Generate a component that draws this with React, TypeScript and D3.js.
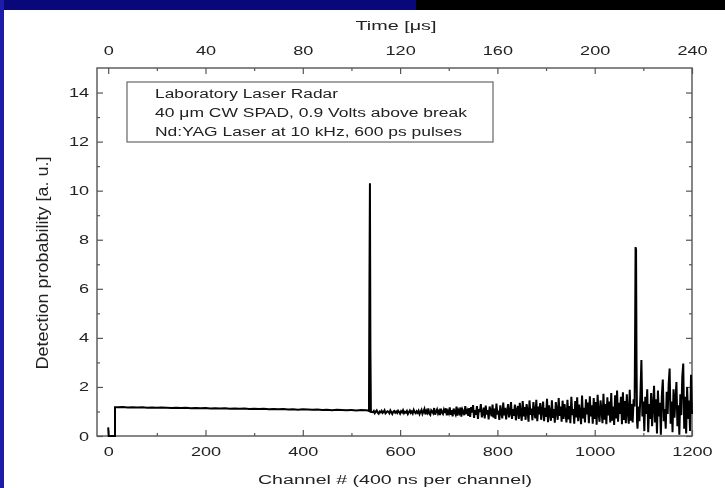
import { useEffect, useRef } from 'react';
import * as d3 from 'd3';

// channel axis ticks (bottom) and time axis ticks (top, µs)
const channelTicks = [0, 200, 400, 600, 800, 1000, 1200];
const channelMinor = [100, 300, 500, 700, 900, 1100];
const timeTicks = [0, 40, 80, 120, 160, 200, 240];
const timeMinor = [20, 60, 100, 140, 180, 220];
const probTicks = [0, 2, 4, 6, 8, 10, 12, 14];
const probMinor = [1, 3, 5, 7, 9, 11, 13];

const legendLines = [
  'Laboratory Laser Radar',
  '40 \u03bcm CW SPAD, 0.9 Volts above break',
  'Nd:YAG Laser at 10 kHz, 600 ps pulses'
];

// start of the record: dead time before the gate opens
const startChannels = [0, 1, 14, 14];
const startValues = [0.35, 0, 0, 1.17];

// flat part, every 10 channels from 20 to 530
const flatStart = 20;
const flatStep = 10;
const flatValues = [
  1.17, 1.18, 1.16, 1.17, 1.16, 1.17, 1.15, 1.16, 1.15, 1.16,
  1.15, 1.14, 1.15, 1.14, 1.15, 1.13, 1.14, 1.13, 1.14, 1.12,
  1.13, 1.12, 1.13, 1.11, 1.12, 1.11, 1.12, 1.10, 1.11, 1.10,
  1.11, 1.09, 1.10, 1.09, 1.10, 1.08, 1.09, 1.07, 1.09, 1.08,
  1.07, 1.08, 1.06, 1.07, 1.05, 1.07, 1.06, 1.05, 1.06, 1.04,
  1.06, 1.05
];

// first return (target 1)
const peak1Channels = [534, 536, 537, 538, 539, 540];
const peak1Values = [1.04, 1.02, 6.2, 10.3, 3.5, 0.98];

// noisy part, every 2 channels from 544 to 1080
const noiseStart = 544;
const noiseStep = 2;
const noiseValues = [
  0.97, 1.02, 0.93, 0.99, 1.04, 0.95, 0.91, 1.00, 0.97, 1.03, 0.94, 0.98, 1.05, 0.92, 0.96, 1.01, 0.99, 0.93, 1.04, 0.97, 0.90, 0.99, 1.02, 0.95, 1.00,
  0.94, 1.03, 0.98, 0.91, 1.01, 0.96, 1.05, 0.93, 0.99, 0.95, 1.02, 0.90, 0.97, 1.04, 0.94, 1.00, 0.92, 1.06, 0.97, 0.93, 1.01, 0.95, 1.03, 0.89, 0.98,
  1.06, 0.90, 0.99, 1.10, 0.88, 1.03, 0.95, 1.12, 0.91, 0.86, 1.05, 1.00, 0.93, 1.14, 0.87, 0.98, 1.08, 0.92, 1.02, 0.85, 1.11, 0.96, 0.90, 1.07, 0.94,
  1.13, 0.84, 1.01, 0.92, 1.17, 0.86, 1.05, 0.80, 1.12, 0.97, 0.88, 1.20, 0.83, 1.04, 0.94, 1.16, 0.79, 1.08, 0.99, 0.85, 1.22, 0.90, 1.02, 0.82, 1.14,
  0.78, 1.18, 0.95, 1.26, 0.74, 1.05, 0.86, 1.22, 0.70, 1.10, 0.98, 1.30, 0.76, 0.92, 1.16, 0.72, 1.24, 0.88, 1.06, 0.68, 1.20, 1.00, 0.80, 1.28, 0.75,
  1.12, 0.70, 1.32, 0.88, 1.04, 0.66, 1.25, 0.95, 0.72, 1.36, 0.84, 1.15, 0.68, 1.02, 1.30, 0.76, 0.94, 1.38, 0.70, 1.10, 0.82, 1.28, 0.64, 1.05, 1.22,
  0.70, 1.35, 0.92, 0.62, 1.42, 0.80, 1.18, 0.66, 1.30, 1.02, 0.58, 1.45, 0.86, 1.12, 0.64, 1.38, 0.95, 0.72, 1.48, 0.60, 1.20, 0.88, 1.34, 0.66, 1.05,
  1.40, 0.60, 1.15, 0.78, 1.52, 0.56, 1.25, 0.92, 0.62, 1.46, 0.74, 1.10, 0.54, 1.38, 1.00, 0.66, 1.55, 0.82, 1.20, 0.58, 1.44, 0.70, 1.30, 0.90, 0.55,
  1.48, 0.68, 1.22, 0.52, 1.60, 0.85, 1.10, 0.50, 1.42, 0.76, 1.58, 0.60, 1.28, 0.95, 0.48, 1.65, 0.72, 1.15, 0.55, 1.50, 0.88, 1.36, 0.52, 1.62, 0.80,
  1.25, 0.50, 1.55, 0.70, 1.38, 0.46, 1.68, 0.92, 0.58, 1.45, 1.05, 0.52, 1.72, 0.66, 1.30, 0.48, 1.58, 0.84, 1.40, 0.55, 1.75, 0.62, 1.20, 0.45, 1.66,
  0.72, 1.85, 0.58, 1.35, 0.90, 1.60, 0.48, 1.78, 0.65, 1.42, 0.52, 1.70, 0.95, 0.50, 1.88, 0.62, 1.30, 0.55, 1.50
];

// second return (target 2)
const peak2Channels = [1082, 1083, 1084, 1085, 1086, 1087];
const peak2Values = [1.2, 4.0, 7.7, 7.6, 3.0, 0.6];

// last stretch, every 2 channels from 1088 to 1200
const tailStart = 1088;
const tailStep = 2;
const tailValues = [
  0.30, 1.20, 0.60, 1.70, 3.10, 0.80, 1.40, 0.20, 1.60, 0.90,
  1.90, 0.15, 1.30, 0.70, 1.75, 0.40, 1.20, 2.05, 0.55, 1.50,
  0.10, 1.85, 0.80, 1.35, 0.05, 1.65, 2.30, 0.60, 1.10, 0.30,
  1.80, 0.90, 2.10, 2.75, 0.50, 1.40, 0.15, 1.90, 0.75, 1.50,
  2.20, 0.40, 1.25, 0.05, 1.70, 0.85, 2.40, 2.95, 0.30, 1.60,
  0.10, 2.00, 0.70, 1.45, 0.20, 2.50, 0.90
];

const W = 725;
const H = 488;
const STRETCH = 1.45;
const FONT = '"Liberation Sans", Arial, Helvetica, sans-serif';
const INK = '#222';

export default function App() {
  const svgRef = useRef<SVGSVGElement | null>(null);

  useEffect(() => {
    if (!svgRef.current) return;
    const svg = d3.select(svgRef.current);
    svg.selectAll('*').remove();

    const left = 97, right = 692, top = 68, bottom = 436;

    const x = d3.scaleLinear().domain([-23, 1200]).range([left, right]);
    const xt = d3.scaleLinear().domain([-23 / 5, 240]).range([left, right]);
    const y = d3.scaleLinear().domain([0, 15]).range([bottom, top]);

    // build the trace
    const pts: [number, number][] = [];
    startChannels.forEach((c, i) => pts.push([c, startValues[i]]));
    flatValues.forEach((v, i) => pts.push([flatStart + i * flatStep, v]));
    peak1Channels.forEach((c, i) => pts.push([c, peak1Values[i]]));
    noiseValues.forEach((v, i) => pts.push([noiseStart + i * noiseStep, v]));
    peak2Channels.forEach((c, i) => pts.push([c, peak2Values[i]]));
    tailValues.forEach((v, i) => pts.push([tailStart + i * tailStep, v]));

    // frame around the page
    svg.append('rect').attr('width', W).attr('height', H).attr('fill', '#fff');
    svg.append('rect').attr('x', 0).attr('y', 0).attr('width', W).attr('height', 10).attr('fill', '#000');
    svg.append('rect').attr('x', 0).attr('y', 0).attr('width', 416).attr('height', 10).attr('fill', '#08087a');
    svg.append('rect').attr('x', 0).attr('y', 0).attr('width', 4).attr('height', H).attr('fill', '#1c1ca8');

    const defs = svg.append('defs');
    defs.append('filter').attr('id', 'soft')
      .append('feGaussianBlur').attr('stdDeviation', 0.45);

    const g = svg.append('g').attr('filter', 'url(#soft)');

    const styleAxis = (sel: any) => {
      sel.select('.domain').remove();
      sel.selectAll('line').attr('stroke', '#555').attr('stroke-width', 1.2);
      sel.selectAll('text')
        .attr('fill', INK)
        .style('font-family', FONT)
        .style('font-size', '12.5px');
    };
    const fmt = d3.format('d');

    // bottom axis
    g.append('g').attr('transform', `translate(0,${bottom})`)
      .call(d3.axisBottom(x).tickValues(channelTicks).tickFormat(fmt as any).tickSize(-6).tickPadding(11))
      .call(styleAxis)
      .selectAll('text').attr('transform', `scale(${STRETCH},1)`);
    g.append('g').attr('transform', `translate(0,${bottom})`)
      .call(d3.axisBottom(x).tickValues(channelMinor).tickSize(-3).tickFormat(() => ''))
      .call(styleAxis);

    // top axis (time)
    g.append('g').attr('transform', `translate(0,${top})`)
      .call(d3.axisTop(xt).tickValues(timeTicks).tickFormat(fmt as any).tickSize(-6).tickPadding(13))
      .call(styleAxis)
      .selectAll('text').attr('transform', `scale(${STRETCH},1)`);
    g.append('g').attr('transform', `translate(0,${top})`)
      .call(d3.axisTop(xt).tickValues(timeMinor).tickSize(-3).tickFormat(() => ''))
      .call(styleAxis);

    // left axis
    g.append('g').attr('transform', `translate(${left},0)`)
      .call(d3.axisLeft(y).tickValues(probTicks).tickFormat(fmt as any).tickSize(-6).tickPadding(5.5))
      .call(styleAxis)
      .selectAll('text').attr('transform', `scale(${STRETCH},1)`);
    g.append('g').attr('transform', `translate(${left},0)`)
      .call(d3.axisLeft(y).tickValues(probMinor).tickSize(-3).tickFormat(() => ''))
      .call(styleAxis);

    // right axis, ticks only
    g.append('g').attr('transform', `translate(${right},0)`)
      .call(d3.axisLeft(y).tickValues(probTicks).tickSize(6).tickFormat(() => ''))
      .call(styleAxis);
    g.append('g').attr('transform', `translate(${right},0)`)
      .call(d3.axisLeft(y).tickValues(probMinor).tickSize(3).tickFormat(() => ''))
      .call(styleAxis);

    // plot frame
    g.append('rect')
      .attr('x', left).attr('y', top)
      .attr('width', right - left).attr('height', bottom - top)
      .attr('fill', 'none').attr('stroke', '#555').attr('stroke-width', 1.4);

    // data trace
    const line = d3.line<[number, number]>()
      .x(d => x(d[0])).y(d => y(d[1]));
    g.append('path')
      .datum(pts)
      .attr('d', line)
      .attr('fill', 'none')
      .attr('stroke', '#000')
      .attr('stroke-width', 2);

    // legend box
    g.append('rect')
      .attr('x', 127).attr('y', 82).attr('width', 366).attr('height', 60)
      .attr('fill', '#fff').attr('stroke', '#666').attr('stroke-width', 1.2);
    const legendWidths = [183, 312, 307];
    legendLines.forEach((t, i) => {
      g.append('text')
        .attr('x', 155).attr('y', 98 + i * 19)
        .attr('textLength', legendWidths[i])
        .attr('lengthAdjust', 'spacingAndGlyphs')
        .attr('fill', INK)
        .style('font-family', FONT)
        .style('font-size', '12.5px')
        .text(t);
    });

    // axis titles
    g.append('text')
      .attr('x', 396).attr('y', 30)
      .attr('text-anchor', 'middle')
      .attr('textLength', 81).attr('lengthAdjust', 'spacingAndGlyphs')
      .attr('fill', INK)
      .style('font-family', FONT).style('font-size', '12.5px')
      .text('Time [\u03bcs]');

    g.append('text')
      .attr('x', 395).attr('y', 484)
      .attr('text-anchor', 'middle')
      .attr('textLength', 274).attr('lengthAdjust', 'spacingAndGlyphs')
      .attr('fill', INK)
      .style('font-family', FONT).style('font-size', '12.5px')
      .text('Channel # (400 ns per channel)');

    g.append('g')
      .attr('transform', `translate(48,263) scale(${STRETCH},1) rotate(-90)`)
      .append('text')
      .attr('text-anchor', 'middle')
      .attr('textLength', 213).attr('lengthAdjust', 'spacingAndGlyphs')
      .attr('fill', INK)
      .style('font-family', FONT).style('font-size', '11.5px')
      .text('Detection probability [a. u.]');
  }, []);

  return (
    <svg
      ref={svgRef}
      width={W}
      height={H}
      style={{ position: 'absolute', left: 0, top: 0, display: 'block' }}
    />
  );
}
